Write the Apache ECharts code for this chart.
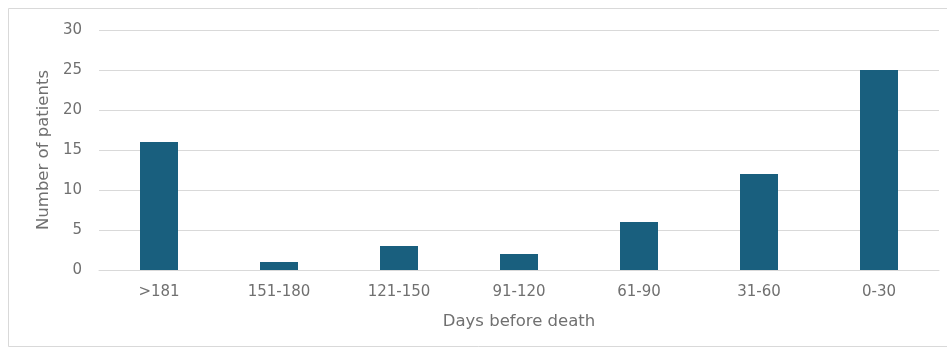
<!DOCTYPE html>
<html>
<head>
<meta charset="utf-8">
<script src="https://cdn.jsdelivr.net/npm/echarts@6/dist/echarts.min.js"></script>
<style>
  html, body { margin: 0; padding: 0; background: #ffffff; }
  #chart { width: 947px; height: 356px; }
</style>
</head>
<body>
<div id="chart"></div>
<script>
// Patients grouped by the interval (in days) before death
const categories = ['>181', '151-180', '121-150', '91-120', '61-90', '31-60', '0-30'];
const patients = [16, 1, 3, 2, 6, 12, 25];
const yTicks = { min: 0, max: 30, interval: 5 };

const FONT = '"DejaVu Sans", "Liberation Sans", sans-serif';
const TEXT = '#707070';

const chart = echarts.init(document.getElementById('chart'), null, { renderer: 'canvas' });
chart.setOption({
  animation: false,
  backgroundColor: '#ffffff',
  graphic: [{
    type: 'rect',
    shape: { x: 8.5, y: 8.5, width: 950, height: 338 },
    style: { fill: 'none', stroke: '#d9d9d9', lineWidth: 1 },
    silent: true
  }],
  grid: { left: 99, right: 8, top: 30, bottom: 86, containLabel: false },
  xAxis: {
    type: 'category',
    data: categories,
    name: 'Days before death',
    nameLocation: 'middle',
    nameGap: 43,
    nameTextStyle: { fontFamily: FONT, fontSize: 16.5, color: TEXT },
    axisLine: { show: true, lineStyle: { color: '#d9d9d9', width: 1 } },
    axisTick: { show: false },
    axisLabel: { fontFamily: FONT, fontSize: 15, color: TEXT, margin: 15 }
  },
  yAxis: {
    type: 'value',
    min: yTicks.min,
    max: yTicks.max,
    interval: yTicks.interval,
    name: 'Number of patients',
    nameLocation: 'middle',
    nameGap: 46,
    nameTextStyle: { fontFamily: FONT, fontSize: 16.5, color: TEXT },
    axisLine: { show: false },
    axisTick: { show: false },
    splitLine: { lineStyle: { color: '#d9d9d9', width: 1 } },
    axisLabel: { fontFamily: FONT, fontSize: 15, color: TEXT, margin: 17 }
  },
  series: [{
    type: 'bar',
    data: patients,
    barWidth: 38,
    itemStyle: { color: '#195f7e' }
  }]
});
</script>
</body>
</html>
